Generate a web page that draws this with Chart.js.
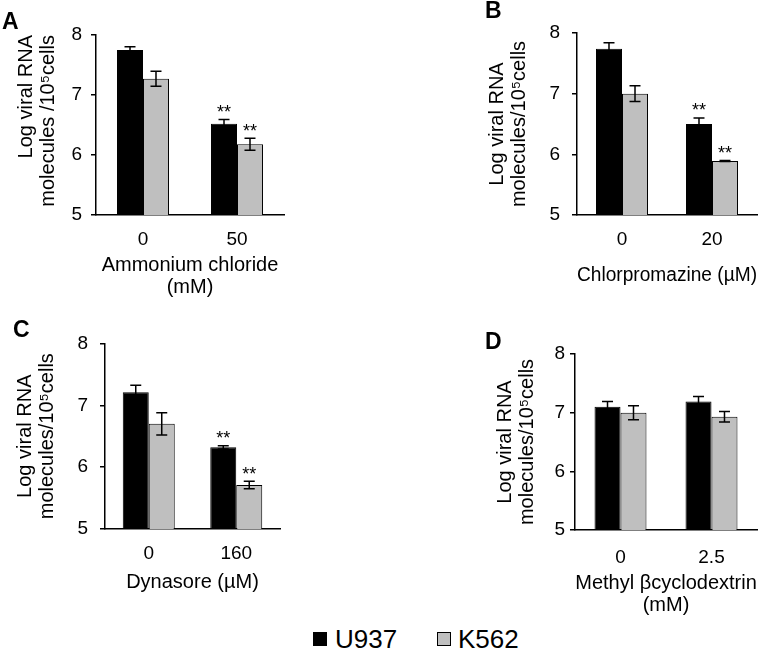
<!DOCTYPE html>
<html><head><meta charset="utf-8">
<script src="https://cdn.jsdelivr.net/npm/chart.js@4/dist/chart.umd.min.js"></script>
<style>
html,body{margin:0;padding:0;background:#fff;}
#wrap{position:relative;width:758px;height:651px;overflow:hidden;font-family:"Liberation Sans",Arial,sans-serif;color:#000;}
canvas{position:absolute;}
.lbl{position:absolute;font-weight:bold;font-size:23px;line-height:23px;}
.leg{position:absolute;font-size:26px;line-height:26px;}
.sw{position:absolute;width:14px;height:14px;box-sizing:border-box;border:1px solid #000;}
</style></head><body>
<div id="wrap">
<canvas id="cA" width="300" height="310" style="left:0;top:0"></canvas>
<canvas id="cB" width="378" height="310" style="left:380px;top:0"></canvas>
<canvas id="cC" width="300" height="290" style="left:0;top:320px"></canvas>
<canvas id="cD" width="378" height="300" style="left:380px;top:320px"></canvas>
<div class="lbl" style="left:2px;top:10px">A</div>
<div class="lbl" style="left:485px;top:-1px">B</div>
<div class="lbl" style="left:13px;top:318px">C</div>
<div class="lbl" style="left:485px;top:330px">D</div>
<div class="sw" style="left:313px;top:632px;background:#000"></div>
<div class="leg" style="left:335px;top:626px">U937</div>
<div class="sw" style="left:437px;top:632px;background:#BFBFBF"></div>
<div class="leg" style="left:458px;top:626px">K562</div>
</div>
<script>
// ---- data ----
const yTicks = [5, 6, 7, 8];
const seriesNames = ['U937', 'K562'];
const yTitle = ['Log viral RNA', 'molecules/10\u2075cells'];
const yTitleA = ['Log viral RNA', 'molecules /10\u2075cells'];

const catsA = ['0', '50'];
const u937A = [7.75, 6.52];
const u937ErrA = [0.055, 0.07];
const k562A = [7.27, 6.18];
const k562ErrA = [0.125, 0.10];
const u937SigA = ['', '**'];
const k562SigA = ['', '**'];
const xTitleA = ['Ammonium chloride', '(mM)'];

const catsB = ['0', '20'];
const u937B = [7.74, 6.50];
const u937ErrB = [0.10, 0.10];
const k562B = [7.00, 5.89];
const k562ErrB = [0.13, 0.01];
const u937SigB = ['', '**'];
const k562SigB = ['', '**'];
const xTitleB = 'Chlorpromazine (\u00b5M)';

const catsC = ['0', '160'];
const u937C = [7.21, 6.32];
const u937ErrC = [0.115, 0.025];
const k562C = [6.70, 5.71];
const k562ErrC = [0.18, 0.06];
const u937SigC = ['', '**'];
const k562SigC = ['', '**'];
const xTitleC = 'Dynasore (\u00b5M)';

const catsD = ['0', '2.5'];
const u937D = [7.10, 7.19];
const u937ErrD = [0.09, 0.085];
const k562D = [7.00, 6.93];
const k562ErrD = [0.12, 0.09];
const u937SigD = ['', ''];
const k562SigD = ['', ''];
const xTitleD = ['Methyl \u03b2cyclodextrin', '(mM)'];

// ---- drawing ----
const FONT = '"Liberation Sans", Arial, Helvetica, sans-serif';

const errorBarPlugin = {
  id: 'errbars',
  afterDatasetsDraw(chart) {
    const ctx = chart.ctx;
    const ys = chart.scales.y;
    chart.data.datasets.forEach((ds, i) => {
      const meta = chart.getDatasetMeta(i);
      meta.data.forEach((bar, j) => {
        const v = ds.data[j], e = ds.errors[j];
        const yTop = ys.getPixelForValue(v + e), yBot = ys.getPixelForValue(v - e);
        ctx.save();
        ctx.strokeStyle = '#000';
        ctx.lineWidth = 1.5;
        ctx.beginPath();
        ctx.moveTo(bar.x, yTop); ctx.lineTo(bar.x, yBot);
        ctx.moveTo(bar.x - 5.5, yTop); ctx.lineTo(bar.x + 5.5, yTop);
        ctx.moveTo(bar.x - 5.5, yBot); ctx.lineTo(bar.x + 5.5, yBot);
        ctx.stroke();
        if (ds.sig && ds.sig[j]) {
          ctx.fillStyle = '#000';
          ctx.font = '18px ' + FONT;
          ctx.textAlign = 'center';
          ctx.textBaseline = 'alphabetic';
          ctx.fillText(ds.sig[j], bar.x, yTop - 1.5);
        }
        ctx.restore();
      });
    });
  }
};

function makePanel(id, p) {
  new Chart(document.getElementById(id), {
    type: 'bar',
    data: {
      labels: p.cats,
      datasets: [
        { label: seriesNames[0], data: p.u, errors: p.ue, sig: p.us, backgroundColor: '#000000', borderColor: '#000000', borderWidth: 1 },
        { label: seriesNames[1], data: p.k, errors: p.ke, sig: p.ks, backgroundColor: '#BFBFBF', borderColor: '#000000', borderWidth: 1 }
      ]
    },
    options: {
      responsive: false,
      animation: false,
      events: [],
      categoryPercentage: p.catPct,
      barPercentage: 1,
      layout: { padding: { left: 0, top: p.padTop, right: p.padRight, bottom: 0 } },
      plugins: { legend: { display: false }, tooltip: { enabled: false }, title: { display: false } },
      scales: {
        x: {
          offset: true,
          grid: { display: true, drawOnChartArea: false, drawTicks: false },
          border: { display: true, color: '#000', width: 1.5 },
          ticks: { color: '#000', font: { family: FONT, size: 19 }, padding: p.xTickPad, autoSkip: false, maxRotation: 0 },
          title: { display: true, text: p.xTitle, color: '#000', font: { family: FONT, size: 20, lineHeight: 1.1 }, padding: { top: 0, bottom: p.xTitlePad } },
          afterFit: s => { s.height = p.xHeight; }
        },
        y: {
          min: 5, max: 8,
          afterBuildTicks: s => { s.ticks = yTicks.map(v => ({ value: v })); },
          grid: { display: true, drawOnChartArea: false, drawTicks: true, tickLength: 5, color: '#000', lineWidth: 1.5 },
          border: { display: true, color: '#000', width: 1.5 },
          ticks: { color: '#000', font: { family: FONT, size: 19 }, padding: p.yTickPad },
          title: { display: true, text: p.yTitle, align: p.yAlign, color: '#000', font: { family: FONT, size: 20, lineHeight: 1.1 }, padding: { top: p.yTitlePad, bottom: 0 } },
          afterFit: s => { s.width = p.yWidth; }
        }
      }
    },
    plugins: [errorBarPlugin]
  });
}

makePanel('cA', { cats: catsA, u: u937A, ue: u937ErrA, us: u937SigA, k: k562A, ke: k562ErrA, ks: k562SigA,
  xTitle: xTitleA, yTitle: yTitleA, yAlign: 'end', catPct: 0.553, padTop: 35, padRight: 16,
  yWidth: 96, xHeight: 95, yTickPad: 9, xTickPad: 13, yTitlePad: 15, xTitlePad: 12 });
makePanel('cB', { cats: catsB, u: u937B, ue: u937ErrB, us: u937SigB, k: k562B, ke: k562ErrB, ks: k562SigB,
  xTitle: xTitleB, yTitle: yTitle, yAlign: 'center', catPct: 0.578, padTop: 33, padRight: 1,
  yWidth: 197, xHeight: 95, yTickPad: 12, xTickPad: 13, yTitlePad: 106, xTitlePad: 24 });
makePanel('cC', { cats: catsC, u: u937C, ue: u937ErrC, us: u937SigC, k: k562C, ke: k562ErrC, ks: k562SigC,
  xTitle: xTitleC, yTitle: yTitle, yAlign: 'center', catPct: 0.594, padTop: 18, padRight: 20,
  yWidth: 105, xHeight: 81, yTickPad: 12, xTickPad: 13, yTitlePad: 14, xTitlePad: 17 });
makePanel('cD', { cats: catsD, u: u937D, ue: u937ErrD, us: u937SigD, k: k562D, ke: k562ErrD, ks: k562SigD,
  xTitle: xTitleD, yTitle: yTitle, yAlign: 'center', catPct: 0.571, padTop: 34, padRight: 1,
  yWidth: 195, xHeight: 90, yTickPad: 5, xTickPad: 16, yTitlePad: 114, xTitlePad: 4 });
</script>
</body></html>
